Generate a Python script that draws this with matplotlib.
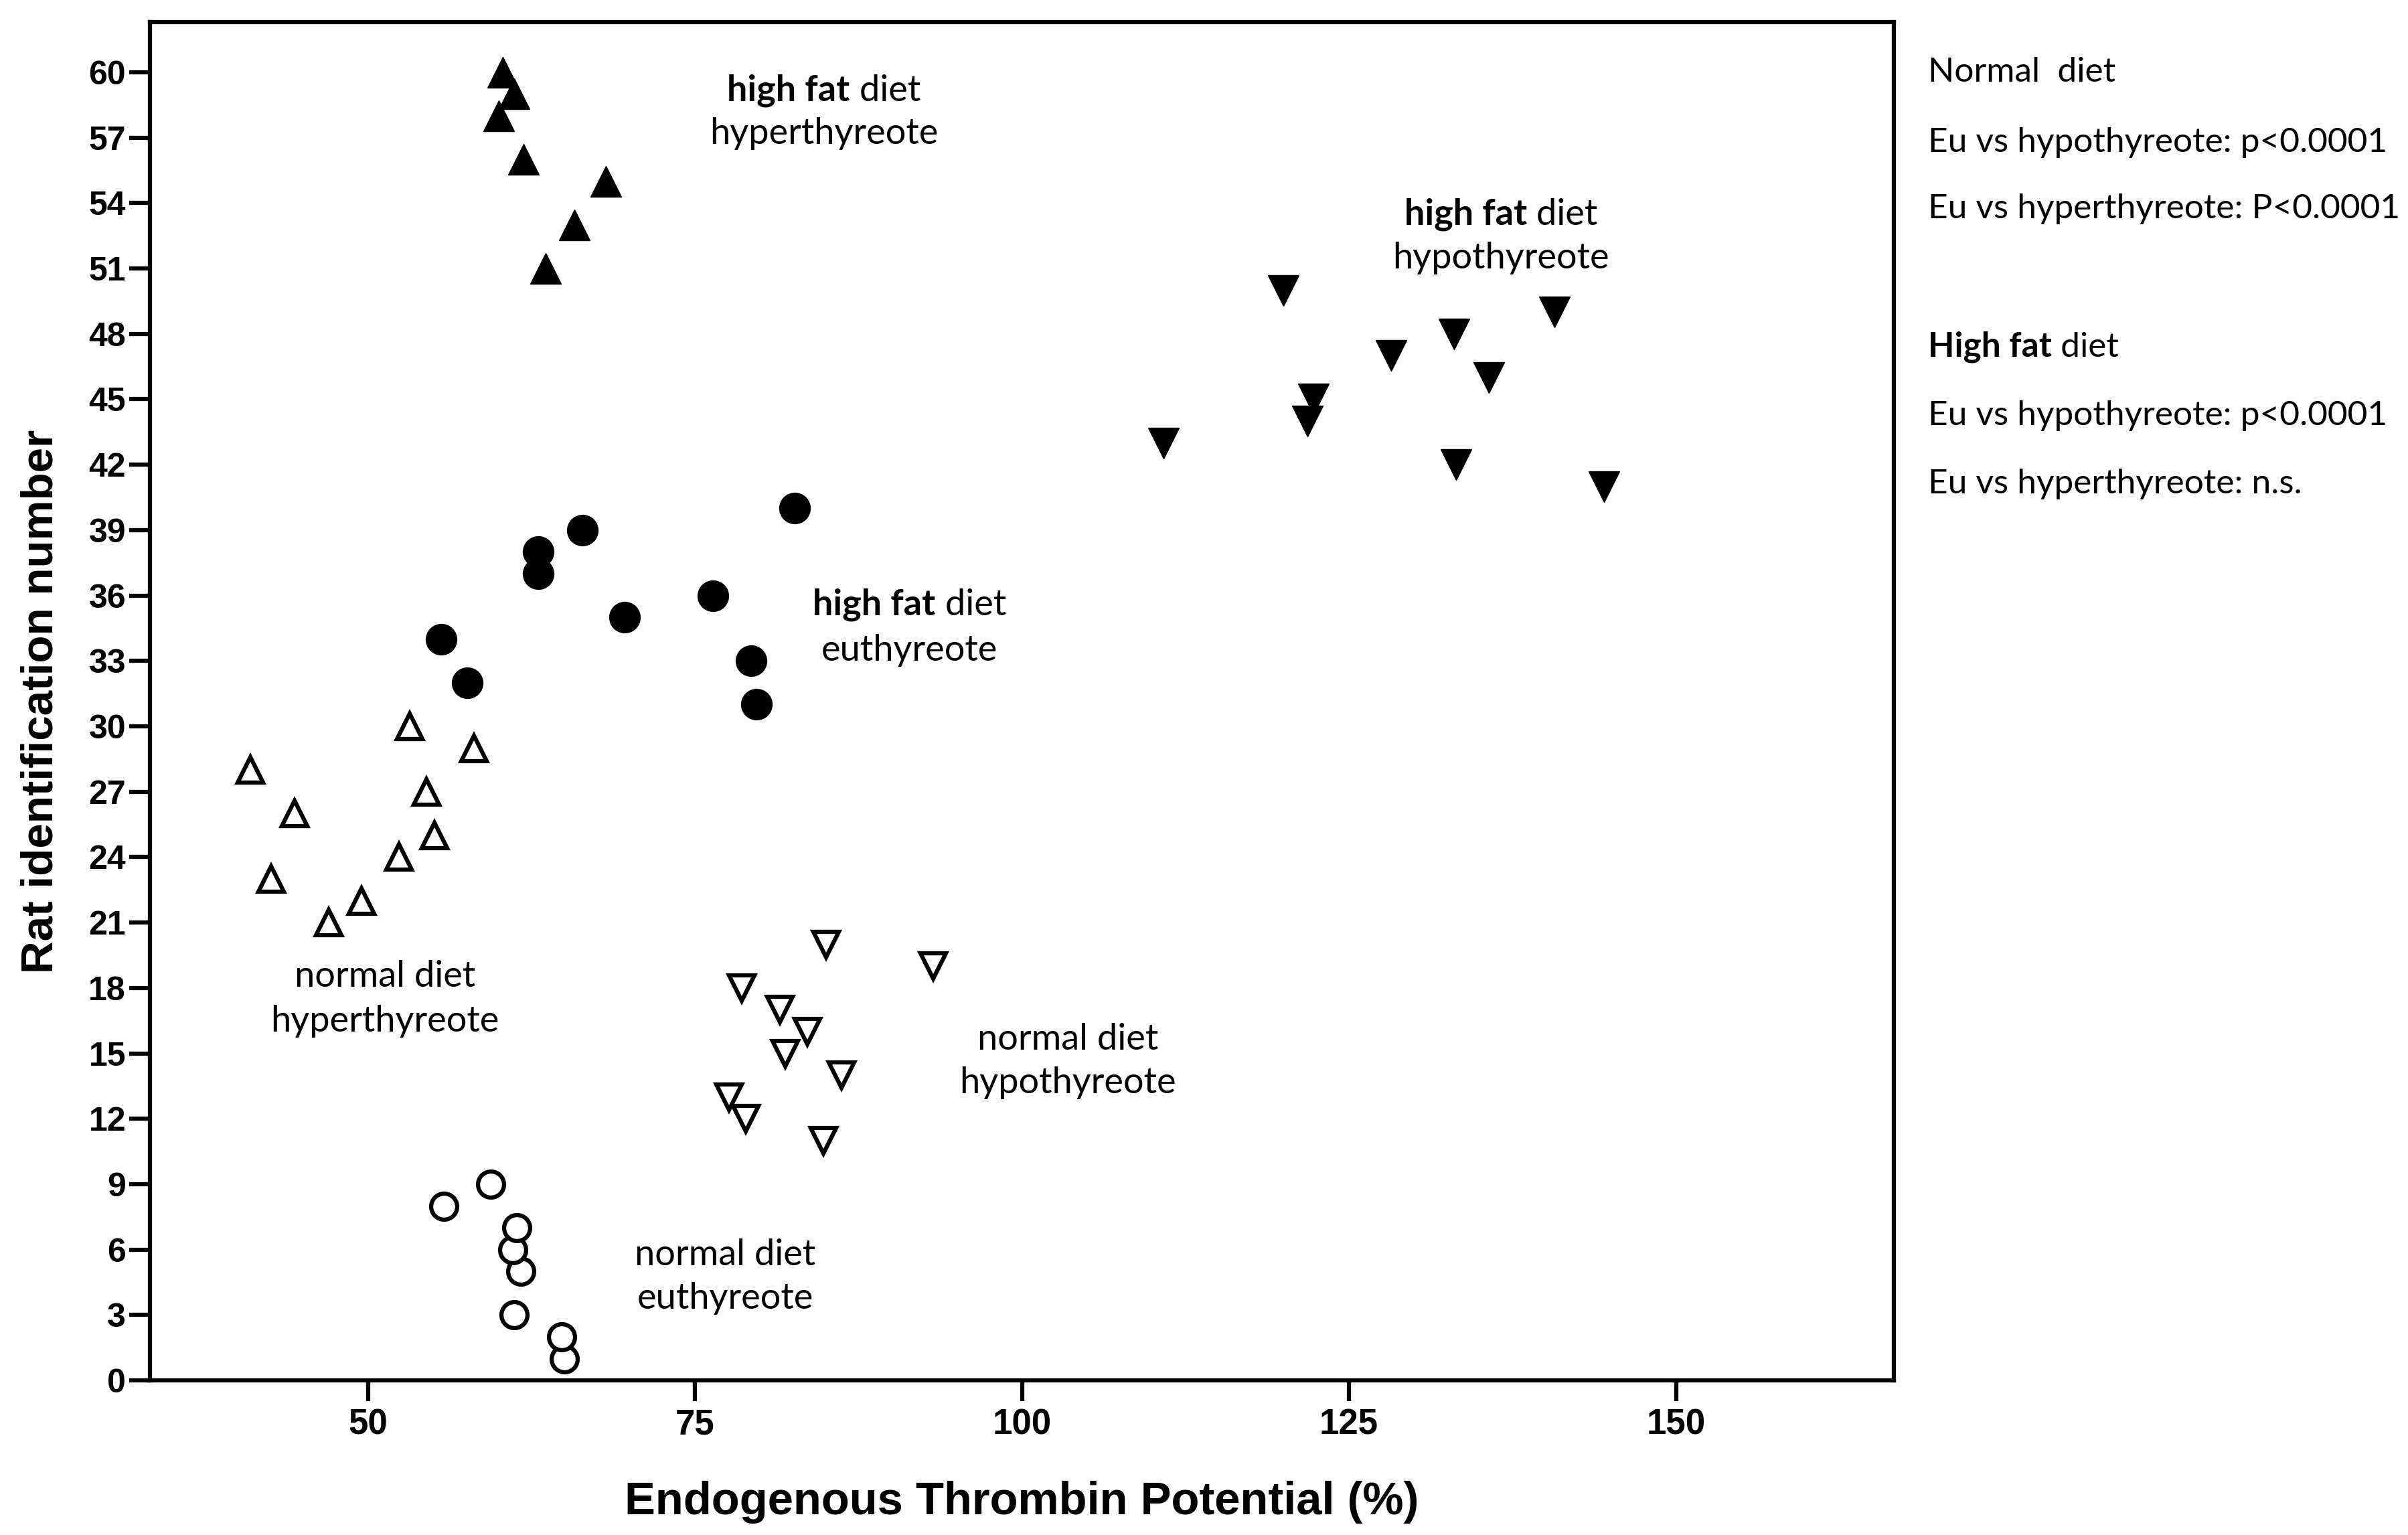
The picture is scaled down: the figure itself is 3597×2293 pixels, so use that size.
import matplotlib
matplotlib.use("Agg")
import matplotlib.pyplot as plt
from matplotlib import font_manager
from matplotlib.transforms import offset_copy

# ETP (%) per rat, rat id on y
nor_eu_x = [65.0, 64.8, 61.2, 61.7, 61.1, 61.4, 55.8, 59.4]
nor_eu_y = [1, 2, 3, 5, 6, 7, 8, 9]
nor_hypo_x = [84.8, 78.9, 77.6, 86.2, 81.9, 83.6, 81.5, 78.6, 93.2, 85.0]
nor_hypo_y = [11, 12, 13, 14, 15, 16, 17, 18, 19, 20]
nor_hyper_x = [47.0, 49.5, 42.6, 52.4, 55.1, 44.4, 54.5, 41.0, 58.1, 53.2]
nor_hyper_y = [21, 22, 23, 24, 25, 26, 27, 28, 29, 30]
hf_eu_x = [79.7, 57.6, 79.3, 55.6, 69.6, 76.4, 63.0, 63.0, 66.4, 82.6]
hf_eu_y = [31, 32, 33, 34, 35, 36, 37, 38, 39, 40]
hf_hypo_x = [144.5, 133.2, 110.8, 121.8, 122.3, 135.7, 128.2, 133.0, 140.7, 120.0]
hf_hypo_y = [41, 42, 43, 44, 45, 46, 47, 48, 49, 50]
hf_hyper_x = [63.6, 65.8, 68.2, 61.9, 60.0, 61.2, 60.3]
hf_hyper_y = [51, 53, 55, 56, 58, 59, 60]

x_ticks = [50, 75, 100, 125, 150]
y_ticks = list(range(0, 61, 3))

names = {f.name for f in font_manager.fontManager.ttflist}
narrow = "Liberation Sans Narrow" if "Liberation Sans Narrow" in names else "Liberation Sans"
note_font = "Lato"
note_size = 39
panel_size = 37

fig = plt.figure(figsize=(35.98, 22.93), dpi=100)
ax = fig.add_axes([0.0623, 0.1007, 0.7240, 0.8849])

open_kw = dict(linestyle="none", markerfacecolor="white", markeredgecolor="black",
               markeredgewidth=4.5, markersize=28)
fill_kw = dict(linestyle="none", color="black", markeredgewidth=1, markersize=33)

ax.plot(nor_eu_x, nor_eu_y, marker="o", **open_kw)
ax.plot(nor_hypo_x, nor_hypo_y, marker="v", **open_kw)
ax.plot(nor_hyper_x, nor_hyper_y, marker="^", **open_kw)
ax.plot(hf_eu_x, hf_eu_y, marker="o", **fill_kw)
ax.plot(hf_hypo_x, hf_hypo_y, marker="v", **fill_kw)
ax.plot(hf_hyper_x, hf_hyper_y, marker="^", **fill_kw)

ax.set_xlim(33.35, 166.65)
ax.set_ylim(0, 62.3)
ax.set_xticks(x_ticks)
ax.set_yticks(y_ticks)
for s in ax.spines.values():
    s.set_linewidth(4.5)
ax.tick_params(axis="both", direction="out", length=22, width=4.5)
ax.tick_params(axis="y", pad=4)
ax.tick_params(axis="x", pad=8)
for lab in ax.get_yticklabels():
    lab.set_fontfamily("Liberation Sans")
    lab.set_fontweight("bold")
    lab.set_fontsize(36)
for lab in ax.get_xticklabels():
    lab.set_fontfamily(narrow)
    lab.set_fontweight("bold")
    lab.set_fontsize(38)

ax.set_xlabel("Endogenous Thrombin Potential (%)", fontfamily=narrow,
              fontweight="bold", fontsize=49.5)
ax.xaxis.label.set_va("baseline")
ax.xaxis.set_label_coords(0.5, -0.0986)
ax.set_ylabel("Rat identification number", fontfamily=narrow,
              fontweight="bold", fontsize=48.5)
ax.yaxis.label.set_va("baseline")
ax.yaxis.set_label_coords(-0.056, 0.5)

renderer = fig.canvas.get_renderer()


def note_line(x, y, bold, normal):
    # one centred line, bold part followed by regular part
    kw = dict(fontfamily=note_font, fontsize=note_size)
    if not bold:
        ax.text(x, y, normal, ha="center", va="baseline", **kw)
        return
    t1 = ax.text(x, y, bold, fontweight="bold", ha="left", va="baseline", **kw)
    t2 = ax.annotate(normal, xy=(1, 0), xycoords=t1, ha="left", va="bottom", **kw)
    w = t1.get_window_extent(renderer).width + t2.get_window_extent(renderer).width
    t1.set_transform(offset_copy(ax.transData, fig=fig, x=-w / 2, units="dots"))


note_line(84.85, 58.7, "high fat", " diet")
note_line(84.85, 56.7, "", "hyperthyreote")
note_line(136.6, 53.0, "high fat", " diet")
note_line(136.6, 51.0, "", "hypothyreote")
note_line(91.4, 35.1, "high fat", " diet")
note_line(91.4, 33.0, "", "euthyreote")
note_line(51.3, 18.05, "", "normal diet")
note_line(51.3, 16.0, "", "hyperthyreote")
note_line(103.5, 15.16, "", "normal diet")
note_line(103.5, 13.17, "", "hypothyreote")
note_line(77.3, 5.28, "", "normal diet")
note_line(77.3, 3.28, "", "euthyreote")

# statistics panel at the right
kw = dict(fontfamily=note_font, fontsize=panel_size, va="baseline", ha="left")
fig.text(0.8004, 0.9468, "Normal  diet", **kw)
fig.text(0.8004, 0.9010, "Eu vs hypothyreote: p<0.0001", **kw)
fig.text(0.8004, 0.8578, "Eu vs hyperthyreote: P<0.0001", **kw)
hb = fig.text(0.8004, 0.7676, "High fat", fontweight="bold", **kw)
fig.text(0, 0, " diet", fontfamily=note_font, fontsize=panel_size,
         transform=offset_copy(fig.transFigure, fig=fig, units="dots",
                               x=0.8004 * fig.bbox.width + hb.get_window_extent(renderer).width,
                               y=0.7676 * fig.bbox.height),
         va="baseline", ha="left")
fig.text(0.8004, 0.7231, "Eu vs hypothyreote: p<0.0001", **kw)
fig.text(0.8004, 0.6786, "Eu vs hyperthyreote: n.s.", **kw)

fig.savefig("out.png", dpi=100)
